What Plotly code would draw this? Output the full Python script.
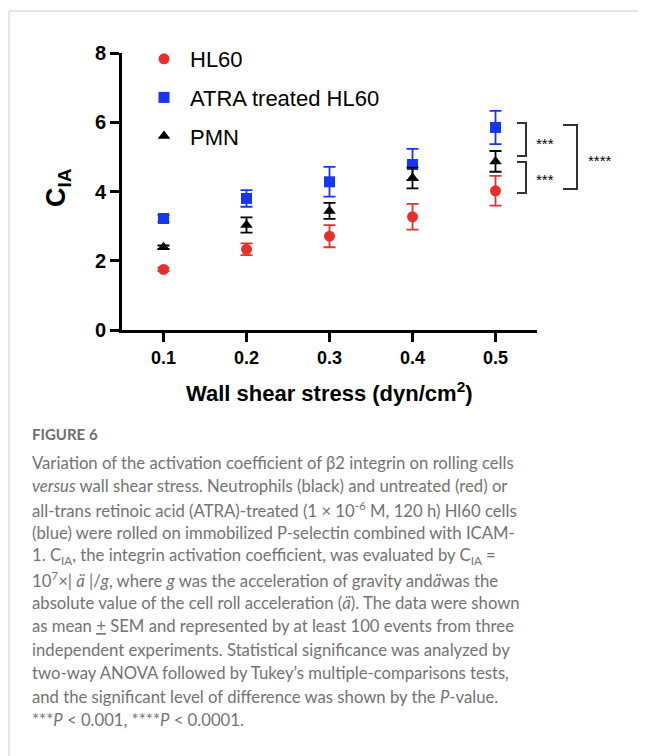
import plotly.graph_objects as go

# ---------------- data ----------------
shear = [0.1, 0.2, 0.3, 0.4, 0.5]
hl60_mean = [1.75, 2.33, 2.71, 3.27, 4.02]
hl60_sem = [0.05, 0.17, 0.32, 0.37, 0.43]
atra_mean = [3.22, 3.80, 4.28, 4.78, 5.85]
atra_sem = [0.10, 0.24, 0.43, 0.45, 0.48]
pmn_mean = [2.39, 3.03, 3.44, 4.39, 4.87]
pmn_sem = [0.05, 0.22, 0.23, 0.30, 0.30]
series_names = ["HL60", "ATRA treated HL60", "PMN"]
x_ticks = [0.1, 0.2, 0.3, 0.4, 0.5]
y_ticks = [0, 2, 4, 6, 8]

caption_lines = [
    "Variation of the activation coefficient of β2 integrin on rolling cells",
    "<i>versus</i> wall shear stress. Neutrophils (black) and untreated (red) or",
    "all-trans retinoic acid (ATRA)-treated (1 × 10<sup>-6</sup> M, 120 h) Hl60 cells",
    "(blue) were rolled on immobilized P-selectin combined with ICAM-",
    "1. C<sub>IA</sub>, the integrin activation coefficient, was evaluated by C<sub>IA</sub> =",
    "10<sup>7</sup>×| <i>ä</i> |/<i>g</i>, where <i>g</i> was the acceleration of gravity and<i>ä</i>was the",
    "absolute value of the cell roll acceleration (<i>ä</i>). The data were shown",
    "as mean <u>+</u> SEM and represented by at least 100 events from three",
    "independent experiments. Statistical significance was analyzed by",
    "two-way ANOVA followed by Tukey’s multiple-comparisons tests,",
    "and the significant level of difference was shown by the <i>P</i>-value.",
    "***<i>P</i> &lt; 0.001, ****<i>P</i> &lt; 0.0001.",
]

# ---------------- layout geometry ----------------
OFF = 8  # page body margin
W, H = 646 - OFF, 756 - OFF
ML, MR, MT, MB = 114, 109, 45, 426
PW = W - ML - MR
PH = H - MT - MB


def px(x):
    return (x - OFF - ML) / PW


def py(y):
    return (H - MB - (y - OFF)) / PH


RED = "#e8302a"
BLUE = "#1636f2"
BLACK = "#000000"
AX_FONT = "Liberation Sans, Arial, sans-serif"
CAP_FONT = "Lato, Open Sans, sans-serif"

fig = go.Figure()
for name, m, e, col, sym, grp in [
    (series_names[0], hl60_mean, hl60_sem, RED, "circle", "a"),
    (series_names[1], atra_mean, atra_sem, BLUE, "square", "b"),
    (series_names[2], pmn_mean, pmn_sem, BLACK, "triangle-up", "c"),
]:
    fig.add_trace(go.Scatter(
        x=shear, y=m, name=name, mode="markers", legendgroup=grp,
        marker=dict(color=col, symbol=sym, size=11, line=dict(width=0)),
        error_y=dict(type="data", array=e, visible=True, color=col,
                     thickness=1.8, width=6),
    ))

fig.update_layout(
    width=W, height=H,
    margin=dict(l=ML, r=MR, t=MT, b=MB),
    paper_bgcolor="white", plot_bgcolor="white",
    showlegend=True,
    legend=dict(x=px(138), y=py(38), xanchor="left", yanchor="top",
                font=dict(family=AX_FONT, size=22, color="black"),
                tracegroupgap=7, bgcolor="rgba(0,0,0,0)", itemwidth=42),
    xaxis=dict(range=[0.05, 0.55], tickvals=x_ticks,
               ticktext=[f"{v:.1f}" for v in x_ticks],
               showgrid=False, zeroline=False, showline=True,
               linecolor="black", linewidth=3, ticks="outside",
               ticklen=9, tickwidth=3, tickcolor="black",
               tickfont=dict(family=AX_FONT, size=18, color="black", weight="bold")),
    yaxis=dict(range=[0, 8], tickvals=y_ticks,
               showgrid=False, zeroline=False, showline=True,
               linecolor="black", linewidth=3, ticks="outside",
               ticklen=9, tickwidth=3, tickcolor="black",
               tickfont=dict(family=AX_FONT, size=20, color="black", weight="bold")),
)

ann = []
# axis titles
ann.append(dict(x=px(58), y=py(188), xref="paper", yref="paper",
                text="<b>C<sub>IA</sub></b>", textangle=-90, showarrow=False,
                font=dict(family=AX_FONT, size=27, color="black"),
                xanchor="center", yanchor="middle"))
ann.append(dict(x=px(329), y=py(392), xref="paper", yref="paper",
                text="<b>Wall shear stress (dyn/cm<sup>2</sup>)</b>", showarrow=False,
                font=dict(family=AX_FONT, size=22, color="black"),
                xanchor="center", yanchor="middle"))
# significance labels
for tx, xx, yy in [("***", 545, 143), ("***", 545, 179), ("****", 600, 160)]:
    ann.append(dict(x=px(xx), y=py(yy), xref="paper", yref="paper", text=tx,
                    showarrow=False, font=dict(family=AX_FONT, size=15, color="black"),
                    xanchor="center", yanchor="middle"))
# caption
ann.append(dict(x=px(30), y=py(434), xref="paper", yref="paper",
                text="FIGURE 6", showarrow=False, xanchor="left", yanchor="middle",
                font=dict(family=CAP_FONT, size=15, color="#6e6e6e", weight="bold")))
for i, line in enumerate(caption_lines):
    ann.append(dict(x=px(30), y=py(463 + i * 23.35), xref="paper", yref="paper",
                    text=line, showarrow=False, xanchor="left", yanchor="middle",
                    font=dict(family=CAP_FONT, size=16.7, color="#737373")))
fig.update_layout(annotations=ann)

shapes = []
# brackets (reference pixel geometry -> paper)
for x0, x1, y0, y1 in [(517, 526, 123, 156), (517, 526, 162, 193), (563, 577, 125, 189)]:
    path = (f"M {px(x0)},{py(y0)} L {px(x1)},{py(y0)} L {px(x1)},{py(y1)} L {px(x0)},{py(y1)}")
    shapes.append(dict(type="path", path=path, xref="paper", yref="paper",
                       line=dict(color="#333333", width=2)))
# caption frame lines
shapes.append(dict(type="line", xref="paper", yref="paper", x0=px(9), x1=px(660),
                   y0=py(11), y1=py(11), line=dict(color="#cccccc", width=1)))
shapes.append(dict(type="line", xref="paper", yref="paper", x0=px(9), x1=px(9),
                   y0=py(11), y1=py(770), line=dict(color="#cccccc", width=1)))
fig.update_layout(shapes=shapes)

fig.write_html("out.html")
